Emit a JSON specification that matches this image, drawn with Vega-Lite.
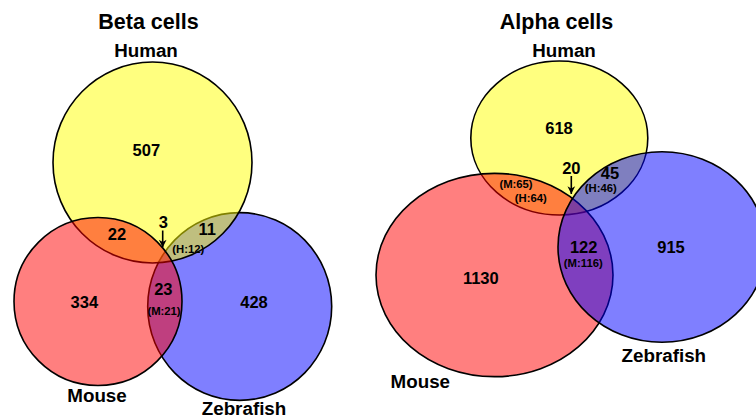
{
  "$schema": "https://vega.github.io/schema/vega-lite/v6.json",
  "width": 756,
  "height": 418,
  "padding": 0,
  "autosize": {"type": "none"},
  "background": "white",
  "config": {"view": {"stroke": null}},
  "datasets": {
    "sets": [
      {"panel": "Beta", "set": "Zebrafish", "key": "Beta/Zebrafish", "x": 239.7, "y": 306.5, "w": 184},
      {"panel": "Beta", "set": "Human", "key": "Beta/Human", "x": 152.5, "y": 162.5, "w": 199},
      {"panel": "Beta", "set": "Mouse", "key": "Beta/Mouse", "x": 98, "y": 301.5, "w": 168},
      {"panel": "Alpha", "set": "Human", "key": "Alpha/Human", "x": 559.3, "y": 138, "w": 177},
      {"panel": "Alpha", "set": "Mouse", "key": "Alpha/Mouse", "x": 494.5, "y": 275, "w": 237},
      {"panel": "Alpha", "set": "Zebrafish", "key": "Alpha/Zebrafish", "x": 662, "y": 247, "w": 208}
    ],
    "labels": [
      {"kind": "title", "text": "Beta cells", "x": 148.5, "y": 29},
      {"kind": "title", "text": "Alpha cells", "x": 556.5, "y": 28.5},
      {"kind": "set", "text": "Human", "x": 146, "y": 56.7},
      {"kind": "set", "text": "Mouse", "x": 97, "y": 401.7},
      {"kind": "set", "text": "Zebrafish", "x": 244, "y": 415},
      {"kind": "set", "text": "Human", "x": 564, "y": 56.7},
      {"kind": "set", "text": "Mouse", "x": 420.3, "y": 388.3},
      {"kind": "set", "text": "Zebrafish", "x": 663.8, "y": 362.3},
      {"kind": "count", "text": "507", "x": 146.3, "y": 155.7},
      {"kind": "count", "text": "22", "x": 117, "y": 240},
      {"kind": "count", "text": "3", "x": 163.3, "y": 228.3},
      {"kind": "count", "text": "11", "x": 207.3, "y": 235},
      {"kind": "count", "text": "23", "x": 163.3, "y": 295},
      {"kind": "count", "text": "334", "x": 84.3, "y": 308},
      {"kind": "count", "text": "428", "x": 254, "y": 308},
      {"kind": "count", "text": "618", "x": 559, "y": 134},
      {"kind": "count", "text": "20", "x": 571.3, "y": 174},
      {"kind": "count", "text": "45", "x": 610, "y": 179.3},
      {"kind": "count", "text": "122", "x": 583.7, "y": 252.7},
      {"kind": "count", "text": "915", "x": 671, "y": 252.7},
      {"kind": "count", "text": "1130", "x": 480.8, "y": 284},
      {"kind": "sub", "text": "(H:12)", "x": 188.3, "y": 253.3},
      {"kind": "sub", "text": "(M:21)", "x": 164, "y": 315},
      {"kind": "sub", "text": "(M:65)", "x": 516, "y": 187.7},
      {"kind": "sub", "text": "(H:64)", "x": 530.8, "y": 202.3},
      {"kind": "sub", "text": "(H:46)", "x": 600.8, "y": 192.3},
      {"kind": "sub", "text": "(M:116)", "x": 583.3, "y": 266.7}
    ],
    "arrows": [
      {"panel": "Beta", "x": 162.7, "y1": 230.5, "y2": 247.5},
      {"panel": "Alpha", "x": 571.3, "y1": 176, "y2": 194}
    ]
  },
  "encoding": {
    "x": {"type": "quantitative", "scale": {"domain": [0, 756], "nice": false, "zero": false}, "axis": null},
    "y": {"type": "quantitative", "scale": {"domain": [0, 418], "nice": false, "zero": false, "reverse": true}, "axis": null}
  },
  "layer": [
    {
      "data": {"name": "sets"},
      "mark": {"type": "point", "filled": true, "opacity": 1, "fillOpacity": 0.5, "stroke": "black", "strokeOpacity": 1, "strokeWidth": 1.6, "clip": true},
      "encoding": {
        "x": {"field": "x", "type": "quantitative", "scale": {"domain": [0, 756], "nice": false, "zero": false}, "axis": null},
        "y": {"field": "y", "type": "quantitative", "scale": {"domain": [0, 418], "nice": false, "zero": false, "reverse": true}, "axis": null},
        "size": {"field": "w", "type": "quantitative", "scale": {"type": "pow", "exponent": 2, "domain": [0, 100], "range": [0, 10000]}, "legend": null},
        "color": {"field": "set", "type": "nominal", "scale": {"domain": ["Human", "Mouse", "Zebrafish"], "range": ["#FFFF00", "#FF0000", "#0000FF"]}, "legend": null},
        "shape": {"field": "key", "type": "nominal", "scale": {
          "domain": ["Beta/Human", "Beta/Mouse", "Beta/Zebrafish", "Alpha/Human", "Alpha/Mouse", "Alpha/Zebrafish"],
          "range": [
            "M-1,0A1,1.01 0 1,0 1,0A1,1.01 0 1,0 -1,0Z",
            "M-1,0A1,1 0 1,0 1,0A1,1 0 1,0 -1,0Z",
            "M-1,0A1,1.02 0 1,0 1,0A1,1.02 0 1,0 -1,0Z",
            "M-1,0A1,0.87 0 1,0 1,0A1,0.87 0 1,0 -1,0Z",
            "M-1,0A1,0.858 0 1,0 1,0A1,0.858 0 1,0 -1,0Z",
            "M-1,0A1,0.916 0 1,0 1,0A1,0.916 0 1,0 -1,0Z"
          ]}, "legend": null}
      }
    },
    {
      "data": {"name": "arrows"},
      "mark": {"type": "rule", "color": "black", "strokeWidth": 1.6},
      "encoding": {
        "x": {"field": "x", "type": "quantitative"},
        "y": {"field": "y1", "type": "quantitative"},
        "y2": {"field": "y2"}
      }
    },
    {
      "data": {"name": "arrows"},
      "mark": {"type": "point", "filled": true, "opacity": 1, "color": "black", "shape": "M-0.55,-1.1L0,0L0.55,-1.1L0,-0.8Z", "size": 196},
      "encoding": {
        "x": {"field": "x", "type": "quantitative"},
        "y": {"field": "y2", "type": "quantitative"}
      }
    },
    {
      "data": {"name": "labels"},
      "transform": [{"filter": "datum.kind === 'title'"}],
      "mark": {"type": "text", "font": "Liberation Sans", "fontWeight": "bold", "fontSize": 21.5, "align": "center", "baseline": "alphabetic", "color": "black"},
      "encoding": {
        "x": {"field": "x", "type": "quantitative"},
        "y": {"field": "y", "type": "quantitative"},
        "text": {"field": "text"}
      }
    },
    {
      "data": {"name": "labels"},
      "transform": [{"filter": "datum.kind === 'set'"}],
      "mark": {"type": "text", "font": "Liberation Sans", "fontWeight": "bold", "fontSize": 18.8, "align": "center", "baseline": "alphabetic", "color": "black"},
      "encoding": {
        "x": {"field": "x", "type": "quantitative"},
        "y": {"field": "y", "type": "quantitative"},
        "text": {"field": "text"}
      }
    },
    {
      "data": {"name": "labels"},
      "transform": [{"filter": "datum.kind === 'count'"}],
      "mark": {"type": "text", "font": "Liberation Sans", "fontWeight": "bold", "fontSize": 16.5, "align": "center", "baseline": "alphabetic", "color": "black"},
      "encoding": {
        "x": {"field": "x", "type": "quantitative"},
        "y": {"field": "y", "type": "quantitative"},
        "text": {"field": "text"}
      }
    },
    {
      "data": {"name": "labels"},
      "transform": [{"filter": "datum.kind === 'sub'"}],
      "mark": {"type": "text", "font": "Liberation Sans", "fontWeight": "bold", "fontSize": 11.3, "align": "center", "baseline": "alphabetic", "color": "black"},
      "encoding": {
        "x": {"field": "x", "type": "quantitative"},
        "y": {"field": "y", "type": "quantitative"},
        "text": {"field": "text"}
      }
    }
  ]
}
